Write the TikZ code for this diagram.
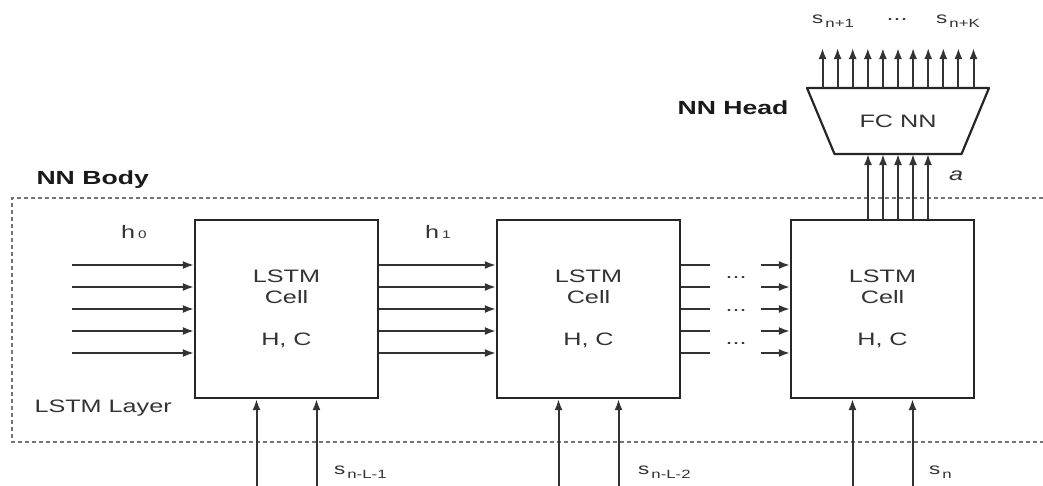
\documentclass[tikz,border=0pt]{standalone}
\usepackage{fontspec}
\setmainfont{Liberation Sans}[FakeStretch=1.4]
\usetikzlibrary{arrows.meta,positioning,calc}
\colorlet{linegray}{black!80}
\tikzset{
  cellbox/.style={draw=black!85, line width=2.2pt, minimum width=183pt, minimum height=178pt,
    align=center, font=\fontsize{18}{21}\selectfont, text=black!80},
  sig/.style={->, draw=linegray, line width=2pt},
  tag/.style={font=\fontsize{18}{21}\selectfont, text=black!80},
  slbl/.style={font=\fontsize{16}{18}\selectfont, text=black!80, inner sep=0pt},
  headtag/.style={font=\fontsize{19}{22}\selectfont\bfseries, text=black!90},
}
\newcommand{\lowsub}[1]{\hspace{2pt}\raisebox{-4pt}{\fontsize{12}{12}\selectfont #1}}
\newcommand{\smallidx}[1]{{\fontsize{11}{11}\selectfont #1}}
\begin{document}
\begin{tikzpicture}[x=1pt, y=-1pt, >={Latex[length=11pt,width=8pt]}]
\useasboundingbox (0,0) rectangle (1043,485);
% NN body frame
\draw[black!55, line width=1.4pt, dash pattern=on 4pt off 3pt] (1043,198) -- (12,198) -- (12,442) -- (1043,442);
\node[headtag, anchor=west] (bodylbl) at (33,180) {NN Body};
\node[tag, anchor=west] (layerlbl) at (31,408) {LSTM Layer};
% LSTM cells
\node[cellbox] (cell1) at (286.5,309) {LSTM\\Cell\\[21pt]H, C};
\node[cellbox] (cell2) at (588.5,309) {LSTM\\Cell\\[21pt]H, C};
\node[cellbox] (cell3) at (882.5,309) {LSTM\\Cell\\[21pt]H, C};
\node[tag, anchor=base] (hzero) at (134,238) {h\,\smallidx{0}};
\node[tag, anchor=base] (hone) at (438,238) {h\,\smallidx{1}};
% hidden state arrows
\foreach \dy in {-44,-22,0,22,44} {
  \draw[sig] ($(cell1.west)+(-122,\dy)$) -- ($(cell1.west)+(0,\dy)$);
  \draw[sig] ($(cell1.east)+(0,\dy)$) -- ($(cell2.west)+(0,\dy)$);
  \draw[linegray, line width=2pt] ($(cell2.east)+(0,\dy)$) -- ++(29,0);
  \draw[sig] ($(cell3.west)+(-29,\dy)$) -- ($(cell3.west)+(0,\dy)$);
}
\foreach \y/\n in {278/a,311/b,344/c}
  \node[tag] (dots\n) at (736,\y) {...};
% inputs
\foreach \c in {1,2,3}
  \foreach \dx in {-30,30}
    \draw[sig] ($(cell\c.south)+(\dx,87)$) -- ($(cell\c.south)+(\dx,0)$);
\node[slbl, anchor=base west] (sone) at (334,474) {s\lowsub{n-L-1}};
\node[slbl, anchor=base west] (stwo) at (638,474) {s\lowsub{n-L-2}};
\node[slbl, anchor=base west] (sn) at (929,474) {s\lowsub{n}};
% NN head
\node[tag, minimum width=182pt, minimum height=66pt, inner sep=0pt, outer sep=0pt] (fc) at (898,121) {FC NN};
\draw[draw=black!85, line width=2.2pt, line join=round] (fc.north west) -- (fc.north east)
  -- ($(fc.south east)+(-27.5,0)$) -- ($(fc.south west)+(27.5,0)$) -- cycle;
\node[headtag, anchor=east] (headlbl) at (792,108) {NN Head};
\foreach \dx [count=\k] in {-30,-15,0,15,30} {
  \path ($(fc.south)+(\dx,0)$) coordinate (tip\k);
  \draw[sig] (tip\k |- cell3.north) -- (tip\k);
}
\node[tag, font=\fontsize{18}{21}\selectfont\itshape] (alpha) at (956,176) {a};
\foreach \i in {-5,...,5}
  \draw[sig] ($(fc.north)+(15.1*\i,0)$) -- ++(0,-40);
\node[slbl, anchor=base west] (sfirst) at (812,23) {s\lowsub{n+1}};
\node[tag] (topdots) at (897,20) {...};
\node[slbl, anchor=base west] (slast) at (936,23) {s\lowsub{n+K}};
\end{tikzpicture}
\end{document}
